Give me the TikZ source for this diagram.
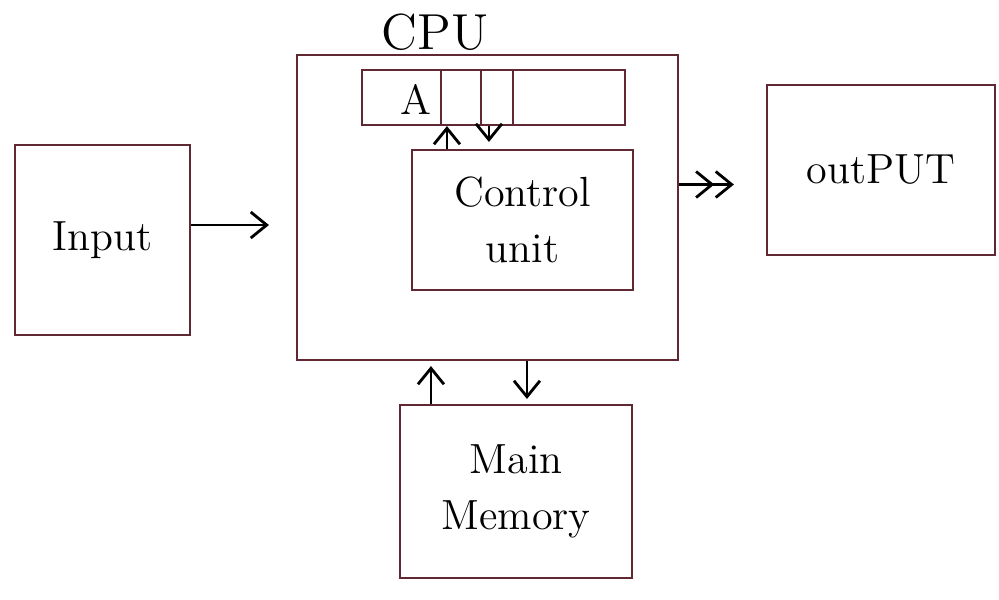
\documentclass[tikz,border=0pt]{standalone}
\usepackage{tikz}
\usetikzlibrary{arrows.meta,positioning,calc}
\definecolor{pen}{RGB}{95,40,50}
\tikzset{
  box/.style={draw=pen, semithick, align=center, font=\large, inner sep=0pt},
  flow/.style={-{Straight Barb[length=1.6mm,width=2.6mm]}, thick},
  dblflow/.style={-{Straight Barb[length=1.6mm,width=2.6mm]Straight Barb[length=1.6mm,width=2.6mm]}, thick},
  lbl/.style={font=\Large}
}
\begin{document}
\begin{tikzpicture}
  \useasboundingbox (0,0) rectangle (9.99,5.99);
  \node[box,minimum width=1.75cm,minimum height=1.9cm] (inp) at (1.025,3.59) {Input};
  \node[box,minimum width=3.81cm,minimum height=3.05cm] (cpu) at (4.875,3.915) {};
  \node[lbl,inner sep=0pt] (cpulbl) at (4.35,5.67) {CPU};
  \node[box,minimum width=2.63cm,minimum height=0.55cm] (reg) at (4.935,5.015) {};
  \node[font=\large] (acell) at (4.16,5.0) {A};
  \draw[pen,semithick] ([xshift=8mm]reg.south west) -- ([xshift=8mm]reg.north west);
  \draw[pen,semithick] ([xshift=12mm]reg.south west) -- ([xshift=12mm]reg.north west);
  \draw[pen,semithick] ([xshift=15.2mm]reg.south west) -- ([xshift=15.2mm]reg.north west);
  \node[box,minimum width=2.21cm,minimum height=1.4cm] (cu) at (5.225,3.79) {Control\\[2pt] unit};
  \node[box,minimum width=2.28cm,minimum height=1.7cm] (outp) at (8.81,4.29) {outPUT};
  \node[box,minimum width=2.32cm,minimum height=1.73cm] (mem) at (5.16,1.075) {Main\\[2pt] Memory};
  % links
  \draw[flow,shorten >=2.7mm] ([yshift=1.5mm]inp.east) -- ([yshift=1.5mm]inp.east -| cpu.west);
  \draw[dblflow,shorten >=3.2mm] ([yshift=2.3mm]cpu.east) -- ([yshift=2.3mm]cpu.east -| outp.west);
  \draw[flow] ([xshift=3.6mm]cu.north west) -- ([xshift=3.6mm]cu.north west |- reg.south);
  \draw[flow,shorten >=0.7mm] ([xshift=12.8mm]reg.south west) -- ([xshift=12.8mm]reg.south west |- cu.north);
  \draw[flow,shorten >=0.5mm] ([xshift=3.2mm]mem.north west) -- ([xshift=3.2mm]mem.north west |- cpu.south);
  \draw[flow,shorten >=0.5mm] ([xshift=23.1mm]cpu.south west) -- ([xshift=23.1mm]cpu.south west |- mem.north);
\end{tikzpicture}
\end{document}
